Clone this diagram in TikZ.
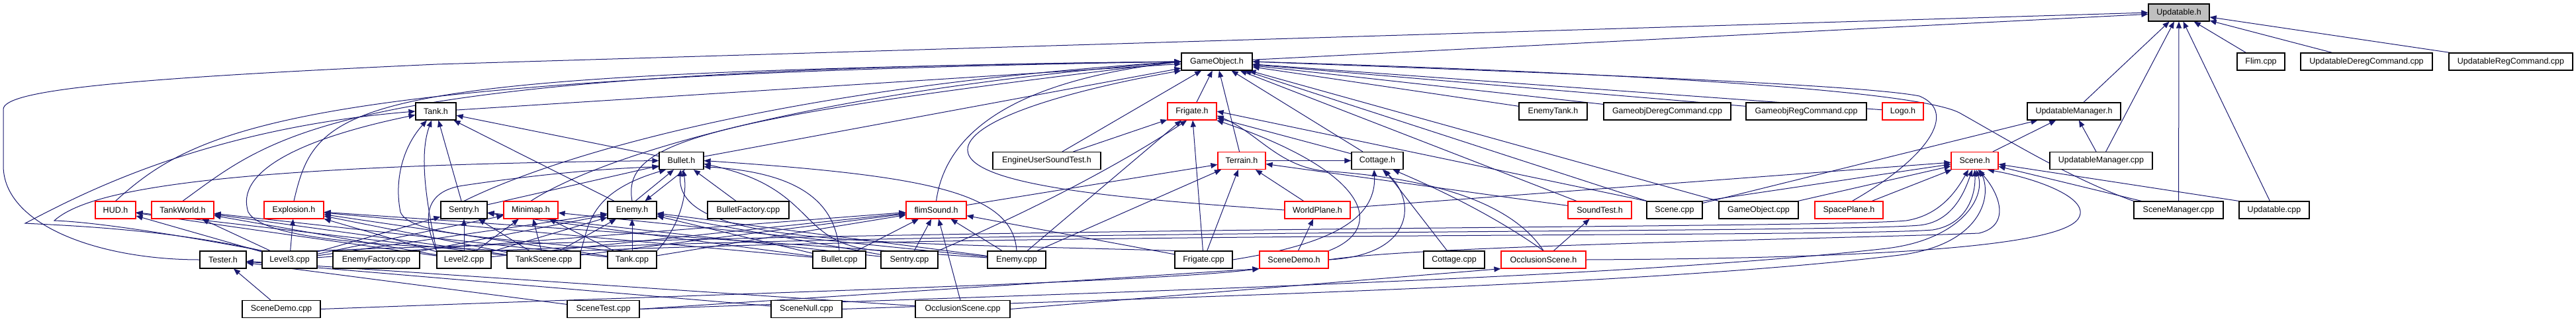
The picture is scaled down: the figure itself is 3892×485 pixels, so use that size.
\documentclass[tikz,border=0pt]{standalone}
\usepackage{fontspec}
\setmainfont{Liberation Sans}
\usepackage{xcolor}
\usepackage{tikz}
\usetikzlibrary{arrows.meta, backgrounds}
\definecolor{depblue}{HTML}{191970}
\definecolor{rootgray}{HTML}{BFBFBF}
\tikzset{
    filebox/.style={rectangle, draw=black, fill=white, line width=1.2pt, minimum height=26pt, inner sep=0pt, font=\fontsize{12.5}{15}\selectfont},
    dep/.style={draw=depblue, line width=1pt, -{Triangle[length=10pt,width=8pt]}}
}

\begin{document}
\begin{tikzpicture}[x=1pt, y=1pt,
    redbox/.style={filebox, draw=red},
    rootbox/.style={filebox, fill=rootgray}]

    \useasboundingbox (0,0) rectangle (3892,-485);

    \node (updh) [rootbox, minimum width=92pt] at (3292,-19) {Updatable.h};

    \node (gameobjh) [filebox, minimum width=107pt] at (1838.5,-93) {GameObject.h};
    \node (flimcpp) [filebox, minimum width=72pt] at (3416,-93) {Flim.cpp};
    \node (uderegcpp) [filebox, minimum width=199pt] at (3575.5,-93) {UpdatableDeregCommand.cpp};
    \node (uregcpp) [filebox, minimum width=187pt] at (3793.5,-93) {UpdatableRegCommand.cpp};

    \node (tankh) [filebox, minimum width=61pt] at (658.5,-168) {Tank.h};
    \node (frigateh) [redbox, minimum width=74pt] at (1801,-168) {Frigate.h};
    \node (enemytankh) [filebox, minimum width=103pt] at (2346.5,-168) {EnemyTank.h};
    \node (goderegcpp) [filebox, minimum width=192pt] at (2519,-168) {GameobjDeregCommand.cpp};
    \node (goregcpp) [filebox, minimum width=182pt] at (2729,-168) {GameobjRegCommand.cpp};
    \node (logoh) [redbox, minimum width=62pt] at (2875,-168) {Logo.h};
    \node (updmgrh) [filebox, minimum width=141pt] at (3133.5,-168) {UpdatableManager.h};

    \node (bulleth) [filebox, minimum width=67pt] at (1029.5,-242.5) {Bullet.h};
    \node (eustesth) [filebox, minimum width=163pt] at (1581.5,-242.5) {EngineUserSoundTest.h};
    \node (terrainh) [redbox, minimum width=72pt] at (1876,-242.5) {Terrain.h};
    \node (cottageh) [filebox, minimum width=78pt] at (2081,-242.5) {Cottage.h};
    \node (sceneh) [redbox, minimum width=71pt] at (2983.5,-242.5) {Scene.h};
    \node (updmgrcpp) [filebox, minimum width=155pt] at (3174.5,-242.5) {UpdatableManager.cpp};

    \node (hudh) [redbox, minimum width=61pt] at (174.5,-317) {HUD.h};
    \node (tankworldh) [redbox, minimum width=94pt] at (276,-317) {TankWorld.h};
    \node (explosionh) [redbox, minimum width=90pt] at (444,-317) {Explosion.h};
    \node (sentryh) [filebox, minimum width=70pt] at (701,-317) {Sentry.h};
    \node (minimaph) [redbox, minimum width=82pt] at (802,-317) {Minimap.h};
    \node (enemyh) [filebox, minimum width=74pt] at (955,-317) {Enemy.h};
    \node (bfactcpp) [filebox, minimum width=123pt] at (1130.5,-317) {BulletFactory.cpp};
    \node (flimsoundh) [redbox, minimum width=91pt] at (1414.5,-317) {flimSound.h};
    \node (worldplaneh) [redbox, minimum width=99pt] at (1990.5,-317) {WorldPlane.h};
    \node (soundtesth) [redbox, minimum width=96pt] at (2417,-317) {SoundTest.h};
    \node (scenecpp) [filebox, minimum width=84pt] at (2530,-317) {Scene.cpp};
    \node (gameobjcpp) [filebox, minimum width=120pt] at (2657,-317) {GameObject.cpp};
    \node (spaceplaneh) [redbox, minimum width=103pt] at (2793.5,-317) {SpacePlane.h};
    \node (scenemgrcpp) [filebox, minimum width=135pt] at (3291.5,-317) {SceneManager.cpp};
    \node (updcpp) [filebox, minimum width=106pt] at (3436,-317) {Updatable.cpp};

    \node (testerh) [filebox, minimum width=70pt] at (337,-392) {Tester.h};
    \node (level3cpp) [filebox, minimum width=83pt] at (437.5,-392) {Level3.cpp};
    \node (efactcpp) [filebox, minimum width=131pt] at (568.5,-392) {EnemyFactory.cpp};
    \node (level2cpp) [filebox, minimum width=82pt] at (701,-392) {Level2.cpp};
    \node (tankscenecpp) [filebox, minimum width=111pt] at (821.5,-392) {TankScene.cpp};
    \node (tankcpp) [filebox, minimum width=74pt] at (955,-392) {Tank.cpp};
    \node (bulletcpp) [filebox, minimum width=80pt] at (1268,-392) {Bullet.cpp};
    \node (sentrycpp) [filebox, minimum width=86pt] at (1374,-392) {Sentry.cpp};
    \node (enemycpp) [filebox, minimum width=88pt] at (1536,-392) {Enemy.cpp};
    \node (frigatecpp) [filebox, minimum width=87pt] at (1818.5,-392) {Frigate.cpp};
    \node (scenedemoh) [redbox, minimum width=104pt] at (1955,-392) {SceneDemo.h};
    \node (cottagecpp) [filebox, minimum width=92pt] at (2197,-392) {Cottage.cpp};
    \node (occlsceneh) [redbox, minimum width=128pt] at (2332,-392) {OcclusionScene.h};

    \node (scenedemocpp) [filebox, minimum width=118pt] at (425,-466.5) {SceneDemo.cpp};
    \node (scenetestcpp) [filebox, minimum width=109pt] at (911.5,-466.5) {SceneTest.cpp};
    \node (scenenullcpp) [filebox, minimum width=107pt] at (1218.5,-466.5) {SceneNull.cpp};
    \node (occlscenecpp) [filebox, minimum width=143pt] at (1454.5,-466.5) {OcclusionScene.cpp};

    \begin{scope}[on background layer]
    % Updatable.h
    \draw [dep] (gameobjh) -- (updh);
    \draw [dep] (testerh.west) .. controls (150,-392) and (5,-340) .. (5,-250) -- (5,-165) .. controls (5,-135) and (200,-118) .. (660,-97) -- (updh.west);
    \draw [dep] (updmgrh) -- (updh);
    \draw [dep] (updmgrcpp) -- (updh);
    \draw [dep] (scenemgrcpp) -- (updh);
    \draw [dep] (updcpp) -- (updh);
    \draw [dep] (flimcpp) -- (updh);
    \draw [dep] (uderegcpp) -- (updh);
    \draw [dep] (uregcpp) -- (updh);

    % UpdatableManager.h
    \draw [dep] (sceneh) -- (updmgrh);
    \draw [dep] (updmgrcpp) -- (updmgrh);
    \draw [dep] (scenecpp) -- (updmgrh);

    % GameObject.h
    \draw [dep] (tankh) -- (gameobjh);
    \draw [dep] (bulleth) -- (gameobjh);
    \draw [dep] (frigateh) -- (gameobjh);
    \draw [dep] (terrainh) -- (gameobjh);
    \draw [dep] (eustesth) -- (gameobjh);
    \draw [dep] (cottageh) -- (gameobjh);
    \draw [dep] (enemytankh) -- (gameobjh);
    \draw [dep] (goderegcpp) -- (gameobjh);
    \draw [dep] (goregcpp) -- (gameobjh);
    \draw [dep] (logoh) -- (gameobjh);
    \draw [dep] (soundtesth) -- (gameobjh);
    \draw [dep] (scenecpp) -- (gameobjh);
    \draw [dep] (gameobjcpp.north west) -- (gameobjh);
    \draw [dep] (hudh.north) .. controls (300,-190) and (450,-115) .. (gameobjh.west);
    \draw [dep] (tankworldh.north) .. controls (420,-200) and (500,-105) .. (gameobjh.west);
    \draw [dep] (explosionh.north) .. controls (480,-150) and (520,-110) .. (gameobjh.west);
    \draw [dep] (sentryh.north) .. controls (850,-230) and (1200,-130) .. (gameobjh.west);
    \draw [dep] (minimaph.north) .. controls (900,-240) and (1200,-140) .. (gameobjh.west);
    \draw [dep] (enemyh.north) .. controls (940,-215) and (1050,-180) .. (gameobjh.west);
    \draw [dep] (flimsoundh.north) .. controls (1430,-190) and (1550,-120) .. (gameobjh.west);
    \draw [dep] (worldplaneh.west) .. controls (1700,-300) and (1430,-280) .. (1465,-215) .. controls (1490,-170) and (1650,-130) .. (gameobjh.south west);
    \draw [dep] (spaceplaneh.70) .. controls (2910,-240) and (2960,-170) .. (2900,-145) .. controls (2800,-125) and (2200,-105) .. (gameobjh.east);
    \draw [dep] (scenemgrcpp.north west) .. controls (3130,-270) and (3040,-215) .. (2960,-170) .. controls (2880,-130) and (2300,-105) .. (gameobjh.east);

    % Tank.h
    \draw [dep] (bulleth) -- (tankh);
    \draw [dep] (sentryh) -- (tankh);
    \draw [dep] (enemyh) -- (tankh);
    \draw [dep] (level3cpp.north west) .. controls (250,-345) and (90,-340) .. (38,-337) .. controls (110,-300) and (300,-195) .. (tankh.west);
    \draw [dep] (tankscenecpp.north west) .. controls (600,-370) and (400,-365) .. (375,-320) .. controls (355,-260) and (450,-210) .. (tankh.190);
    \draw [dep] (level2cpp.north west) .. controls (650,-330) and (630,-240) .. (tankh.-115);
    \draw [dep] (tankcpp.north west) .. controls (800,-360) and (620,-360) .. (605,-320) .. controls (595,-270) and (610,-220) .. (tankh.-135);

    % Frigate.h
    \draw [dep] (eustesth) -- (frigateh);
    \draw [dep] (sentrycpp.north east) .. controls (1600,-300) and (1720,-230) .. (frigateh.-120);
    \draw [dep] (enemycpp) -- (frigateh);
    \draw [dep] (frigatecpp) -- (frigateh);
    \draw [dep] (cottageh) -- (frigateh);
    \draw [dep] (scenecpp.north west) -- (frigateh.east);
    \draw [dep] (scenedemoh.north east) .. controls (2095,-345) and (2070,-260) .. (frigateh.-20);
    \draw [dep] (occlsceneh.north) .. controls (2280,-300) and (2150,-268) .. (2000,-258) .. controls (1930,-250) and (1900,-200) .. (frigateh.-10);

    % Terrain.h
    \draw [dep] (enemycpp) -- (terrainh);
    \draw [dep] (frigatecpp) -- (terrainh);
    \draw [dep] (worldplaneh) -- (terrainh);
    \draw [dep] (soundtesth) -- (terrainh);
    \draw [dep] (flimsoundh) -- (terrainh);

    % Bullet.h
    \draw [dep] (sentryh) -- (bulleth);
    \draw [dep] (enemyh.70) -- (bulleth.-130);
    \draw [dep] (bulleth.-70) -- (enemyh.35);
    \draw [dep] (bfactcpp) -- (bulleth);
    \draw [dep] (level3cpp.north west) .. controls (300,-360) and (150,-335) .. (82,-333) .. controls (130,-290) and (300,-250) .. (bulleth.west);
    \draw [dep] (level2cpp.north west) .. controls (645,-345) and (630,-290) .. (700,-280) .. controls (800,-265) and (900,-255) .. (bulleth.-165);
    \draw [dep] (tankscenecpp.north east) .. controls (890,-340) and (890,-290) .. (bulleth.-150);
    \draw [dep] (tankcpp.north east) .. controls (1020,-350) and (1040,-300) .. (bulleth.-80);
    \draw [dep] (bulletcpp.north) .. controls (1262,-300) and (1200,-260) .. (bulleth.-15);
    \draw [dep] (sentrycpp.north west) .. controls (1200,-370) and (1240,-285) .. (bulleth.-8);
    \draw [dep] (enemycpp.north) .. controls (1530,-290) and (1400,-265) .. (bulleth.east);
    \draw [dep] (frigatecpp.north west) .. controls (1300,-365) and (1020,-370) .. (bulleth.-95);

    % Enemy.h
    \draw [dep] (tankcpp) -- (enemyh);
    \draw [dep] (level3cpp) -- (enemyh);
    \draw [dep] (efactcpp) -- (enemyh);
    \draw [dep] (level2cpp) -- (enemyh);
    \draw [dep] (tankscenecpp) -- (enemyh);
    \draw [dep] (enemycpp) -- (enemyh);
    \draw [dep] (sentrycpp) -- (enemyh);
    \draw [dep] (bulletcpp) -- (enemyh);

    % Sentry.h
    \draw [dep] (level2cpp) -- (sentryh);
    \draw [dep] (level3cpp) -- (sentryh);
    \draw [dep] (tankscenecpp) -- (sentryh);
    \draw [dep] (sentrycpp) -- (sentryh);
    \draw [dep] (bulletcpp) -- (sentryh);

    % Minimap.h
    \draw [dep] (level2cpp) -- (minimaph);
    \draw [dep] (tankscenecpp) -- (minimaph);
    \draw [dep] (tankcpp) -- (minimaph);
    \draw [dep] (level3cpp) -- (minimaph);
    \draw [dep] (enemycpp) -- (minimaph);

    % HUD.h, TankWorld.h, Explosion.h
    \draw [dep] (level3cpp) -- (hudh);
    \draw [dep] (level2cpp) -- (hudh);
    \draw [dep] (tankscenecpp) -- (hudh);
    \draw [dep] (level3cpp) -- (tankworldh);
    \draw [dep] (level2cpp) -- (tankworldh);
    \draw [dep] (tankscenecpp) -- (tankworldh);
    \draw [dep] (tankcpp) -- (tankworldh);
    \draw [dep] (level3cpp) -- (explosionh);
    \draw [dep] (level2cpp) -- (explosionh);
    \draw [dep] (tankscenecpp) -- (explosionh);
    \draw [dep] (tankcpp) -- (explosionh);
    \draw [dep] (bulletcpp) -- (explosionh);
    \draw [dep] (enemycpp) -- (explosionh);

    % flimSound.h
    \draw [dep] (sentrycpp) -- (flimsoundh);
    \draw [dep] (enemycpp) -- (flimsoundh);
    \draw [dep] (occlscenecpp) -- (flimsoundh);
    \draw [dep] (level3cpp) -- (flimsoundh);
    \draw [dep] (level2cpp) -- (flimsoundh);
    \draw [dep] (tankscenecpp) -- (flimsoundh);
    \draw [dep] (tankcpp) -- (flimsoundh);
    \draw [dep] (bulletcpp) -- (flimsoundh);
    \draw [dep] (frigatecpp) -- (flimsoundh);

    % WorldPlane.h, SoundTest.h, Cottage.h
    \draw [dep] (scenedemoh) -- (worldplaneh);
    \draw [dep] (occlsceneh) -- (soundtesth);
    \draw [dep] (scenedemoh.east) .. controls (2140,-385) and (2140,-300) .. (cottageh.-60);
    \draw [dep] (cottagecpp) -- (cottageh);
    \draw [dep] (occlsceneh.north) .. controls (2250,-320) and (2160,-280) .. (cottageh.-30);
    \draw [dep] (frigatecpp.east) .. controls (2000,-370) and (2080,-335) .. (cottageh.-110);
    \draw [dep] (terrainh) -- (cottageh);

    % Scene.h
    \draw [dep] (gameobjcpp) -- (sceneh);
    \draw [dep] (spaceplaneh) -- (sceneh);
    \draw [dep] (scenecpp.north east) -- (sceneh);
    \draw [dep] (scenemgrcpp) -- (sceneh);
    \draw [dep] (updcpp.north west) -- (sceneh);
    \draw [dep] (worldplaneh) -- (sceneh);
    \draw [dep] (level3cpp.north east) .. controls (1500,-340) and (2750,-345) .. (2880,-333) .. controls (2930,-325) and (2955,-290) .. (sceneh.-125);
    \draw [dep] (level2cpp.north east) .. controls (1500,-345) and (2760,-352) .. (2900,-340) .. controls (2950,-335) and (2968,-290) .. (sceneh.-105);
    \draw [dep] (tankscenecpp.north east) .. controls (1600,-350) and (2780,-358) .. (2920,-347) .. controls (2975,-338) and (2985,-290) .. (sceneh.-90);
    \draw [dep] (scenedemoh.east) .. controls (2150,-370) and (2800,-360) .. (2990,-352) .. controls (3040,-340) and (3020,-290) .. (sceneh.-70);
    \draw [dep] (occlsceneh.east) .. controls (2800,-390) and (3110,-375) .. (3140,-330) .. controls (3160,-300) and (3080,-270) .. (sceneh.-35);
    \draw [dep] (scenetestcpp.east) .. controls (1700,-440) and (2450,-420) .. (2850,-375) .. controls (2960,-362) and (3000,-300) .. (sceneh.-80);
    \draw [dep] (scenenullcpp.east) .. controls (1800,-448) and (2500,-430) .. (2870,-385) .. controls (2990,-370) and (3010,-300) .. (sceneh.-60);

    % Tester.h, SceneDemo.h, OcclusionScene.h
    \draw [dep] (scenedemocpp) -- (testerh);
    \draw [dep] (scenetestcpp) -- (testerh);
    \draw [dep] (scenenullcpp) -- (testerh);
    \draw [dep] (occlscenecpp) -- (testerh);
    \draw [dep] (scenedemocpp.east) .. controls (1200,-440) and (1750,-425) .. (scenedemoh.south west);
    \draw [dep] (scenetestcpp.east) -- (scenedemoh.south west);
    \draw [dep] (occlscenecpp.east) -- (occlsceneh.south west);
    \end{scope}
\end{tikzpicture}
\end{document}
